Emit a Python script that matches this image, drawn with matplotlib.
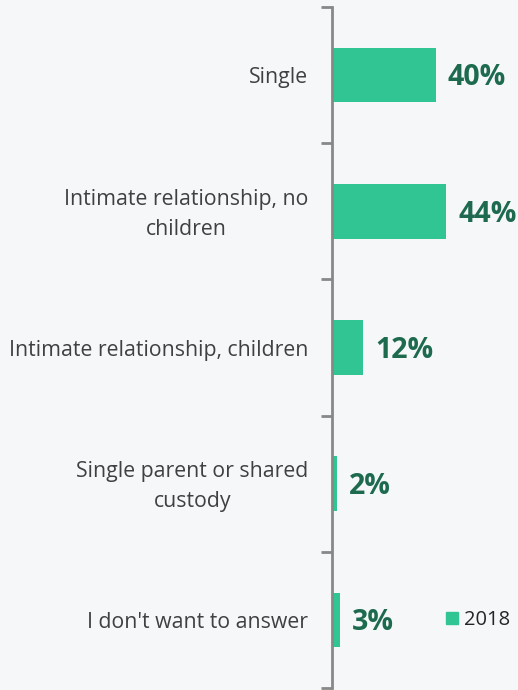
import matplotlib.pyplot as plt
from matplotlib.patches import Patch
from matplotlib.transforms import ScaledTranslation

categories = ["Single", "Intimate relationship, no\nchildren", "Intimate relationship, children",
              "Single parent or shared\ncustody", "I don't want to answer"]
values = [40, 44, 12, 2, 3]
series_name = "2018"

bg = "#f5f7f9"
bar_color = "#31c593"
label_color = "#1d6a4f"

plt.rcParams['font.family'] = ['Open Sans', 'DejaVu Sans']

fig = plt.figure(figsize=(5.18, 6.9), dpi=100, facecolor=bg)
ax = fig.add_axes([332 / 518, 2 / 690, 186 / 518, 681 / 690])
ax.set_facecolor(bg)

ypos = list(range(len(categories)))
ax.barh(ypos, values, height=0.4, color=bar_color, label=series_name)
ax.set_ylim(len(categories) - 0.5, -0.5)
ax.set_xlim(0, 186 / 2.6)

for y, v in zip(ypos, values):
    ax.text(v + 4.6, y + 0.02, f"{v}%", va="center", ha="left", fontsize=20.5,
            fontweight="bold", color=label_color)

# category names sit between the boundary ticks
ax.set_yticks(ypos)
ax.set_yticklabels(categories, fontsize=15.3, color="#404040", linespacing=1.55,
                   ha="right", multialignment="center")
ax.tick_params(axis="y", which="major", length=0, pad=17)
ax.set_yticks([i - 0.5 for i in range(len(categories) + 1)], minor=True)
ax.tick_params(axis="y", which="minor", length=8, width=2, color="#888888")
ax.set_xticks([])

# two-line names sit a little above the bar centre
for lbl in ax.get_yticklabels():
    if "\n" in lbl.get_text():
        lbl.set_transform(lbl.get_transform() + ScaledTranslation(0, 4 / 100, fig.dpi_scale_trans))

for s in ["top", "right", "bottom"]:
    ax.spines[s].set_visible(False)
ax.spines["left"].set_color("#888888")
ax.spines["left"].set_linewidth(2)

leg = ax.legend(handles=[Patch(color=bar_color, label=series_name)], loc="center left",
                bbox_to_anchor=(114 / 186, 1 - 615 / 681 + 2 / 681), frameon=False,
                fontsize=14.5, handlelength=0.6, handleheight=0.6, handletextpad=0.3,
                borderpad=0, borderaxespad=0)
for t in leg.get_texts():
    t.set_color("#262626")

fig.savefig("out.png", dpi=100, facecolor=bg)
